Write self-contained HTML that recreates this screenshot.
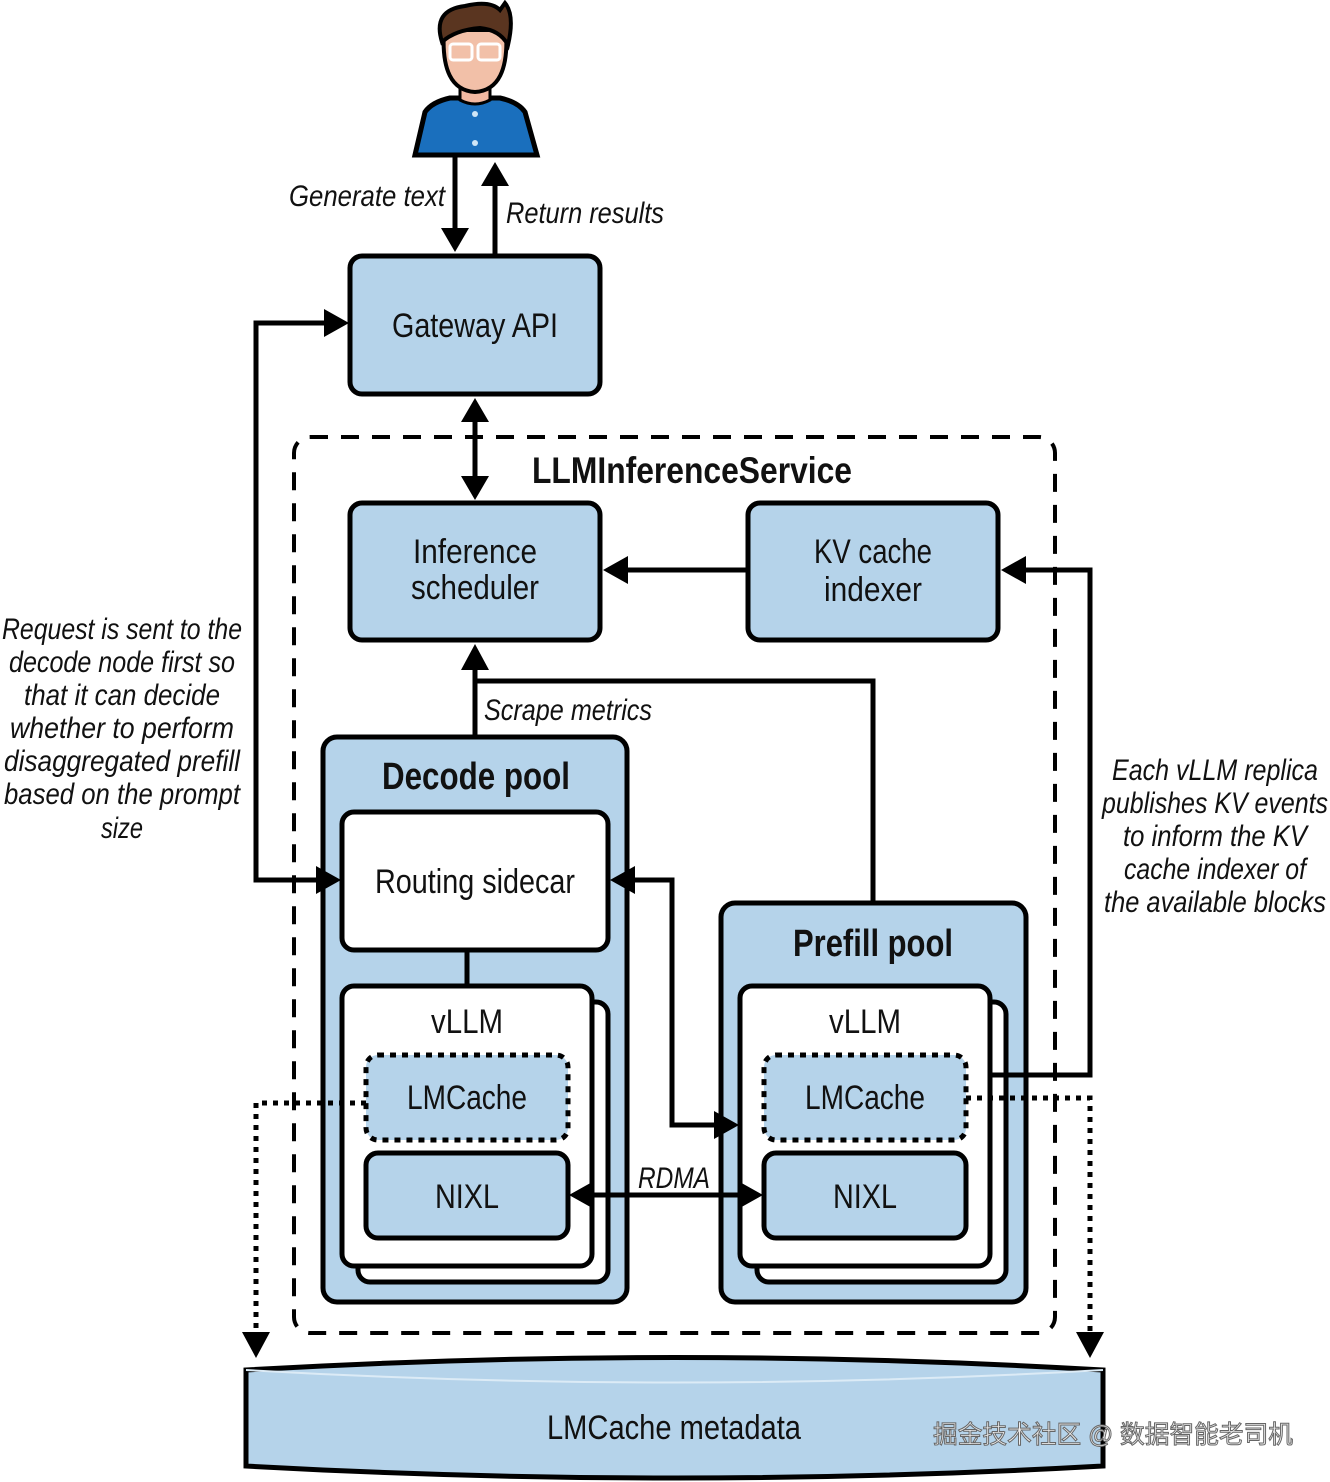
<!DOCTYPE html>
<html><head><meta charset="utf-8"><style>
html,body{margin:0;padding:0;background:#fff}
svg{display:block}
text{font-family:"Liberation Sans Narrow","Liberation Sans",sans-serif;fill:#111}
.it{font-style:italic}
</style></head><body>
<svg width="1330" height="1482" viewBox="0 0 1330 1482" xmlns="http://www.w3.org/2000/svg">
<defs>
<marker id="ah" markerWidth="8" markerHeight="8" refX="7" refY="4" orient="auto" markerUnits="userSpaceOnUse" viewBox="0 0 8 8"><path d="M0,0 L8,4 L0,8 z" fill="#000"/></marker>
</defs>
<g fill="none" stroke="#000" stroke-width="5">
<!-- person -->
<path d="M415,155 L425,112 Q432,102 450,98 L500,98 Q518,102 525,112 L537,155 Z" fill="#1a6fbd"/>
<path d="M460,80 L460,100 Q475,108 490,100 L490,80 Z" fill="#f2b9a2" stroke-width="3"/>
<path d="M444,30 Q440,90 475,92 Q510,90 506,30 Z" fill="#f2c0a8" stroke-width="4"/>
<path d="M442,42 Q432,10 465,6 Q490,0 500,10 L505,3 Q515,15 508,45 Q500,30 480,28 Q455,30 442,42 Z" fill="#5a3520" stroke-width="4"/>
<rect x="450" y="44" width="22" height="16" rx="3" stroke="#fff" stroke-width="3"/>
<rect x="478" y="44" width="22" height="16" rx="3" stroke="#fff" stroke-width="3"/>
</g>
<circle cx="475" cy="114" r="3" fill="#cfe6f7"/><circle cx="475" cy="143" r="3" fill="#cfe6f7"/>

<g fill="none" stroke="#000" stroke-width="5">
<!-- user arrows -->
<line x1="455" y1="157" x2="455" y2="236"/>
<path d="M441,228 L469,228 L455,252 Z" fill="#000" stroke="none"/>
<line x1="495" y1="254" x2="495" y2="178"/>
<path d="M481,186 L509,186 L495,162 Z" fill="#000" stroke="none"/>

<!-- dashed LLMInferenceService -->
<rect x="294" y="437" width="761" height="896" rx="16" stroke-width="4" stroke-dasharray="18,13"/>

<!-- gateway -->
<rect x="350" y="256" width="250" height="138" rx="12" fill="#b5d3ea"/>
<!-- gw <-> scheduler -->
<line x1="475" y1="415" x2="475" y2="482"/>
<path d="M461,422 L489,422 L475,398 Z M461,476 L489,476 L475,500 Z" fill="#000" stroke="none"/>

<rect x="350" y="503" width="250" height="137" rx="12" fill="#b5d3ea"/>
<rect x="748" y="503" width="250" height="137" rx="12" fill="#b5d3ea"/>
<line x1="748" y1="570" x2="620" y2="570"/>
<path d="M628,556 L628,584 L603,570 Z" fill="#000" stroke="none"/>

<!-- scrape metrics -->
<polyline points="873,903 873,681 475,681"/>
<line x1="475" y1="737" x2="475" y2="662"/>
<path d="M461,670 L489,670 L475,644 Z" fill="#000" stroke="none"/>

<!-- decode pool -->
<rect x="323" y="737" width="304" height="565" rx="14" fill="#b5d3ea"/>
<rect x="342" y="812" width="266" height="138" rx="12" fill="#fff"/>
<line x1="467" y1="950" x2="467" y2="986"/>
<rect x="358" y="1002" width="250" height="280" rx="12" fill="#fff"/>
<rect x="342" y="986" width="250" height="280" rx="12" fill="#fff"/>
<rect x="366" y="1055" width="202" height="85" rx="12" fill="#b5d3ea" stroke-dasharray="6,6"/>
<rect x="366" y="1153" width="202" height="85" rx="12" fill="#b5d3ea"/>

<!-- prefill pool -->
<rect x="721" y="903" width="305" height="399" rx="14" fill="#b5d3ea"/>
<rect x="757" y="1002" width="249" height="280" rx="12" fill="#fff"/>
<rect x="740" y="986" width="250" height="280" rx="12" fill="#fff"/>
<rect x="764" y="1055" width="202" height="85" rx="12" fill="#b5d3ea" stroke-dasharray="6,6"/>
<rect x="764" y="1153" width="202" height="85" rx="12" fill="#b5d3ea"/>

<!-- left loop -->
<polyline points="320,880 256,880 256,323 330,323"/>
<path d="M324,309 L324,337 L349,323 Z M316,866 L316,894 L341,880 Z" fill="#000" stroke="none"/>

<!-- routing -> prefill -->
<polyline points="630,880 672,880 672,1125 718,1125"/>
<path d="M635,866 L635,894 L610,880 Z M714,1111 L714,1139 L739,1125 Z" fill="#000" stroke="none"/>

<!-- RDMA -->
<line x1="590" y1="1195" x2="745" y2="1195"/>
<path d="M594,1181 L594,1209 L569,1195 Z M738,1181 L738,1209 L763,1195 Z" fill="#000" stroke="none"/>

<!-- KV events -->
<polyline points="990,1075 1090,1075 1090,570 1020,570"/>
<path d="M1026,556 L1026,584 L1001,570 Z" fill="#000" stroke="none"/>

<!-- dotted to metadata -->
<polyline points="366,1103 256,1103 256,1336" stroke-dasharray="5,6"/>
<polyline points="966,1098 1090,1098 1090,1336" stroke-dasharray="5,6"/>
<path d="M242,1332 L270,1332 L256,1358 Z M1076,1332 L1104,1332 L1090,1358 Z" fill="#000" stroke="none"/>

<!-- cylinder -->
<path d="M246,1370 Q674,1345 1103,1370 L1103,1466 Q674,1490 246,1466 Z" fill="#b5d3ea"/>
<path d="M246,1370 Q674,1395 1103,1370" stroke-width="2" stroke="#dcebf6"/>
</g>

<!-- texts -->
<text x="289" y="206" font-size="30" class="it" textLength="156" lengthAdjust="spacingAndGlyphs">Generate text</text>
<text x="506" y="223" font-size="30" class="it" textLength="158" lengthAdjust="spacingAndGlyphs">Return results</text>
<text x="475" y="337" font-size="34" text-anchor="middle" textLength="166" lengthAdjust="spacingAndGlyphs">Gateway API</text>
<text x="692" y="483" font-size="37" font-weight="bold" text-anchor="middle" textLength="320" lengthAdjust="spacingAndGlyphs">LLMInferenceService</text>
<text x="475" y="563" font-size="34" text-anchor="middle" textLength="124" lengthAdjust="spacingAndGlyphs">Inference</text>
<text x="475" y="599" font-size="34" text-anchor="middle" textLength="128" lengthAdjust="spacingAndGlyphs">scheduler</text>
<text x="873" y="563" font-size="34" text-anchor="middle" textLength="118" lengthAdjust="spacingAndGlyphs">KV cache</text>
<text x="873" y="601" font-size="34" text-anchor="middle" textLength="98" lengthAdjust="spacingAndGlyphs">indexer</text>
<text x="484" y="720" font-size="30" class="it" textLength="168" lengthAdjust="spacingAndGlyphs">Scrape metrics</text>
<text x="476" y="789" font-size="38" font-weight="bold" text-anchor="middle" textLength="188" lengthAdjust="spacingAndGlyphs">Decode pool</text>
<text x="873" y="956" font-size="38" font-weight="bold" text-anchor="middle" textLength="160" lengthAdjust="spacingAndGlyphs">Prefill pool</text>
<text x="475" y="893" font-size="34" text-anchor="middle" textLength="200" lengthAdjust="spacingAndGlyphs">Routing sidecar</text>
<text x="467" y="1033" font-size="34" text-anchor="middle" textLength="72" lengthAdjust="spacingAndGlyphs">vLLM</text>
<text x="865" y="1033" font-size="34" text-anchor="middle" textLength="72" lengthAdjust="spacingAndGlyphs">vLLM</text>
<text x="467" y="1109" font-size="34" text-anchor="middle" textLength="120" lengthAdjust="spacingAndGlyphs">LMCache</text>
<text x="865" y="1109" font-size="34" text-anchor="middle" textLength="120" lengthAdjust="spacingAndGlyphs">LMCache</text>
<text x="467" y="1208" font-size="34" text-anchor="middle" textLength="64" lengthAdjust="spacingAndGlyphs">NIXL</text>
<text x="865" y="1208" font-size="34" text-anchor="middle" textLength="64" lengthAdjust="spacingAndGlyphs">NIXL</text>
<text x="638" y="1188" font-size="30" class="it" textLength="72" lengthAdjust="spacingAndGlyphs">RDMA</text>
<text x="674" y="1439" font-size="34" text-anchor="middle" textLength="254" lengthAdjust="spacingAndGlyphs">LMCache metadata</text>
<text x="1113" y="1443" font-size="25" text-anchor="middle" style="font-family:'Liberation Sans','Noto Sans CJK SC',sans-serif;fill:#eee;stroke:#666;stroke-width:1" textLength="360" lengthAdjust="spacingAndGlyphs">掘金技术社区 @ 数据智能老司机</text>

<g font-size="30" class="it" text-anchor="middle">
<text x="122" y="639" textLength="240" lengthAdjust="spacingAndGlyphs">Request is sent to the</text>
<text x="122" y="672" textLength="226" lengthAdjust="spacingAndGlyphs">decode node first so</text>
<text x="122" y="705" textLength="196" lengthAdjust="spacingAndGlyphs">that it can decide</text>
<text x="122" y="738" textLength="224" lengthAdjust="spacingAndGlyphs">whether to perform</text>
<text x="122" y="771" textLength="236" lengthAdjust="spacingAndGlyphs">disaggregated prefill</text>
<text x="122" y="804" textLength="236" lengthAdjust="spacingAndGlyphs">based on the prompt</text>
<text x="122" y="838" textLength="42" lengthAdjust="spacingAndGlyphs">size</text>
<text x="1215" y="780" textLength="206" lengthAdjust="spacingAndGlyphs">Each vLLM replica</text>
<text x="1215" y="813" textLength="226" lengthAdjust="spacingAndGlyphs">publishes KV events</text>
<text x="1215" y="846" textLength="184" lengthAdjust="spacingAndGlyphs">to inform the KV</text>
<text x="1215" y="879" textLength="182" lengthAdjust="spacingAndGlyphs">cache indexer of</text>
<text x="1215" y="912" textLength="222" lengthAdjust="spacingAndGlyphs">the available blocks</text>
</g>
</svg>
</body></html>
